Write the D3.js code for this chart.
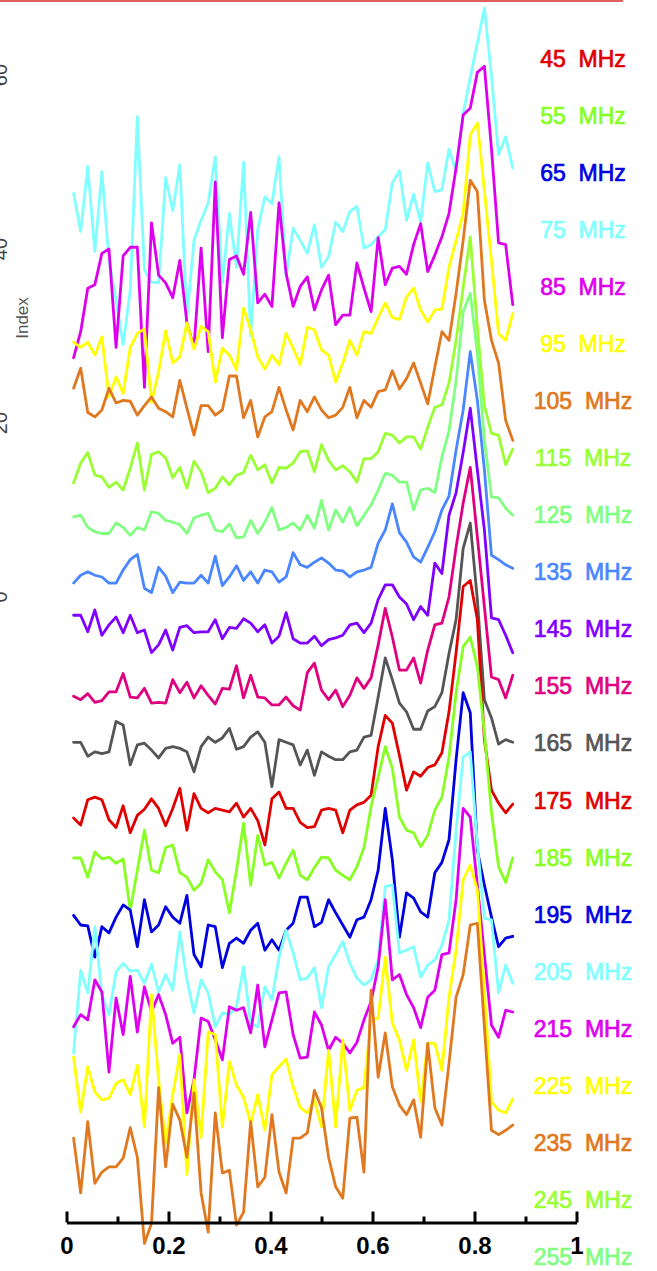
<!DOCTYPE html>
<html>
<head>
<meta charset="utf-8">
<script src="https://cdn.jsdelivr.net/npm/d3@7"></script>
<style>
  html, body { margin: 0; padding: 0; background: #fff; }
  svg { display: block; }
</style>
</head>
<body>
<svg id="chart" width="657" height="1271"></svg>
<script>
// Sample positions (phase) shared by every trace
const phase = [0.0139,0.0278,0.0417,0.0556,0.0694,0.0833,0.0972,0.1111,0.125,0.1389,
  0.1528,0.1667,0.1806,0.1944,0.2083,0.2222,0.2361,0.25,0.2639,0.2778,
  0.2917,0.3056,0.3194,0.3333,0.3472,0.3611,0.375,0.3889,0.4028,0.4167,
  0.4306,0.4444,0.4583,0.4722,0.4861,0.5,0.5139,0.5278,0.5417,0.5556,
  0.5694,0.5833,0.5972,0.6111,0.625,0.6389,0.6528,0.6667,0.6806,0.6944,
  0.7083,0.7222,0.7361,0.75,0.7639,0.7778,0.7917,0.8056,0.8194,0.8333,
  0.8472,0.8611,0.875];

// Frequency channels listed on the right and their colours
const freqs = [45,55,65,75,85,95,105,115,125,135,145,155,165,175,185,195,205,215,225,235,245,255];
const freqColors = ["#e00000","#88ff22","#0000e0","#80ffff","#dd00ee","#ffff00","#e07820","#99ff33",
  "#80ff80","#4a86ff","#7f00ff","#e0007f","#555555","#e00000","#88ff22","#0000e0","#80ffff",
  "#dd00ee","#ffff00","#e07820","#99ff33","#80ff80"];

// Stacked profiles (Index units, offset included)
const s75 = [46.4,42.0,49.5,39.7,48.9,38.7,34.1,29.0,35.3,55.2,37.6,36.2,36.1,48.2,44.4,49.7,32.1,41.0,43.3,45.3,50.6,36.1,44.1,37.9,50.0,30.0,42.2,46.0,45.2,50.6,36.8,42.4,41.0,39.5,42.8,37.9,39.1,43.1,42.0,44.3,44.9,40.1,40.5,41.4,42.2,47.6,49.0,43.3,46.3,43.1,49.9,46.6,46.8,51.5,48.9,55.6,59.7,63.7,67.7,59.9,50.8,52.9,49.3];
const s85 = [27.5,30.5,35.5,35.9,39.5,40.0,28.7,39.2,40.2,40.2,24.1,43.0,37.0,36.1,34.4,38.7,31.5,28.7,40.1,28.2,47.7,29.8,38.8,39.2,37.1,44.2,33.8,34.8,33.4,45.3,37.2,33.4,35.7,36.8,33.0,35.3,37.0,31.3,32.4,32.4,38.4,35.5,32.8,41.3,35.9,37.8,38.0,37.1,40.5,42.9,37.4,39.3,41.4,44.1,49.3,55.4,56.2,60.3,61.0,51.5,40.7,40.5,33.6];
const s95 = [29.3,28.7,29.3,27.8,29.9,23.0,25.3,23.4,28.7,30.3,30.8,22.4,25.9,30.6,26.9,27.6,31.5,28.5,31.1,30.5,24.7,28.6,27.8,26.1,33.2,30.7,27.6,26.2,27.8,26.7,30.3,28.6,26.7,31.0,30.7,28.4,27.8,24.7,26.9,29.5,27.8,30.5,30.3,32.1,33.8,32.1,31.9,34.5,35.5,33.0,31.6,33.0,33.1,37.9,41.0,44.1,53.1,54.5,46.7,38.6,30.3,29.5,32.6];
const s105 = [24.0,26.3,21.2,20.7,21.5,24.0,22.3,22.6,22.5,20.9,22.0,23.0,21.7,21.3,20.7,24.9,21.7,18.6,22.0,22.0,20.9,21.5,25.4,25.4,20.6,22.6,18.4,20.7,21.3,24.1,21.5,19.2,22.6,21.3,23.0,21.5,20.6,20.9,21.8,24.1,20.6,22.6,21.8,23.6,23.8,26.0,23.9,25.1,26.9,24.6,22.2,26.4,30.5,29.5,34.9,41.0,47.9,46.6,34.1,29.5,26.9,20.3,18.0];
const s115 = [13.1,15.4,16.6,14.0,13.8,12.6,13.2,12.3,14.8,17.7,12.3,16.4,16.7,16.0,13.7,14.9,12.5,15.6,14.4,12.0,12.5,13.8,12.9,14.0,14.3,16.3,14.6,15.2,13.1,14.9,14.8,15.4,16.7,16.8,14.4,17.5,15.7,14.6,15.1,14.4,13.2,15.9,15.9,16.7,18.8,18.6,17.7,18.4,18.4,17.0,19.5,21.8,22.1,24.6,29.5,35.6,41.4,31.0,22.0,18.8,18.6,15.2,17.0];
const s125 = [9.2,9.4,8.0,7.5,7.3,7.3,8.5,8.0,7.1,8.0,7.7,9.8,9.6,8.8,8.6,8.3,7.3,9.1,9.4,9.6,7.7,7.5,8.4,6.8,6.9,8.8,7.3,8.6,10.3,7.7,8.0,8.5,7.7,9.4,7.9,11.1,7.7,10.0,8.6,10.3,8.2,9.4,10.6,12.3,14.2,14.0,13.2,13.2,10.0,12.3,12.5,12.0,16.1,19.1,24.9,32.8,34.9,28.0,18.0,11.5,11.4,10.2,9.4];
const s135 = [1.6,2.5,2.9,2.5,2.3,1.6,1.6,3.1,4.3,4.9,1.0,0.5,3.4,2.4,0.5,1.7,1.6,1.6,2.5,1.6,4.7,1.3,2.3,3.6,1.9,2.9,1.6,3.1,2.9,1.7,2.3,5.1,3.7,3.4,4.0,4.5,3.9,3.1,3.0,2.3,2.9,3.1,3.4,6.2,7.7,10.7,7.4,6.3,4.6,4.0,5.7,7.5,10.0,11.6,16.9,21.5,28.2,22.6,14.6,4.8,4.3,3.7,3.3];
const s145 = [-2.1,-2.1,-4.0,-1.5,-4.4,-3.2,-2.3,-4.1,-2.1,-4.1,-3.8,-6.4,-5.5,-3.8,-6.1,-3.5,-3.3,-4.1,-4.0,-4.0,-2.6,-4.8,-3.5,-3.6,-2.5,-3.0,-4.0,-3.2,-5.3,-4.5,-1.8,-4.8,-5.3,-5.3,-4.5,-5.6,-4.9,-4.7,-4.4,-3.2,-3.0,-4.1,-3.0,-0.3,1.4,1.4,0.0,-0.8,-2.6,-1.1,-2.1,3.9,2.7,9.4,12.0,16.6,21.7,14.6,7.7,-2.4,-2.6,-4.4,-6.4];
const s155 = [-11.4,-11.8,-11.1,-12.1,-11.9,-10.9,-10.9,-8.8,-11.5,-11.6,-10.5,-12.2,-12.1,-12.2,-9.5,-11.0,-9.8,-11.6,-10.2,-11.3,-12.3,-10.5,-10.6,-7.9,-11.6,-9.0,-11.5,-11.6,-12.4,-12.4,-11.5,-12.5,-13.0,-8.7,-7.6,-10.7,-11.8,-10.7,-12.6,-11.3,-9.3,-10.5,-9.3,-5.5,-1.3,-4.6,-8.4,-8.4,-7.0,-9.9,-6.1,-3.2,-3.0,0.0,5.7,10.8,14.9,6.9,-1.1,-9.2,-9.5,-11.6,-9.0];
const s165 = [-16.7,-16.7,-18.3,-17.8,-18.0,-17.8,-14.3,-14.7,-19.3,-17.0,-16.8,-17.6,-18.5,-17.4,-17.2,-17.4,-17.8,-20.1,-17.2,-16.1,-16.7,-16.2,-15.1,-17.5,-17.2,-16.1,-15.5,-16.7,-21.8,-16.4,-16.7,-17.0,-19.3,-17.6,-20.5,-17.8,-18.3,-18.7,-18.7,-17.8,-17.6,-16.1,-15.9,-11.5,-7.0,-9.5,-12.2,-13.2,-15.2,-15.2,-13.1,-12.6,-11.0,-6.5,-2.6,5.6,8.5,-0.3,-11.8,-13.9,-16.9,-16.4,-16.7];
const s175 = [-25.4,-26.2,-23.3,-23.0,-23.3,-25.6,-26.5,-24.0,-27.1,-25.1,-24.4,-23.2,-24.3,-26.3,-24.3,-22.0,-26.8,-22.6,-24.3,-24.8,-24.3,-24.5,-24.7,-23.7,-25.3,-24.3,-25.7,-28.5,-23.2,-22.4,-24.3,-24.3,-25.9,-26.5,-26.4,-24.5,-24.3,-24.5,-27.1,-24.5,-23.9,-23.6,-22.8,-17.2,-13.6,-14.5,-18.2,-22.2,-20.1,-20.6,-19.6,-19.3,-17.9,-13.2,-6.4,1.2,1.9,-2.6,-16.4,-22.2,-23.7,-24.8,-23.8];
const s185 = [-30.0,-30.0,-32.2,-29.3,-30.1,-29.9,-30.6,-30.1,-36.0,-31.4,-26.8,-31.4,-31.7,-28.8,-28.5,-31.7,-32.2,-33.7,-32.9,-30.2,-31.6,-32.5,-36.3,-31.4,-26.0,-33.1,-27.4,-30.8,-30.5,-32.3,-30.6,-29.1,-32.0,-32.5,-31.1,-29.9,-30.0,-31.4,-32.0,-32.5,-31.0,-28.8,-24.1,-20.7,-17.2,-19.7,-25.3,-26.8,-27.1,-28.7,-27.4,-24.5,-23.0,-18.4,-11.0,-5.7,-4.6,-8.0,-15.6,-24.8,-31.0,-32.8,-30.0];
const s195 = [-36.6,-37.7,-37.8,-41.4,-37.9,-38.6,-36.8,-35.4,-36.0,-40.2,-34.8,-38.5,-37.7,-35.6,-36.8,-37.5,-34.3,-41.1,-42.5,-37.7,-37.9,-42.6,-39.8,-39.2,-39.8,-38.3,-37.5,-40.6,-39.4,-40.6,-38.3,-37.5,-34.5,-34.5,-37.9,-37.4,-34.8,-36.3,-37.7,-39.1,-37.1,-36.8,-34.8,-31.4,-24.3,-30.2,-39.1,-34.0,-34.6,-36.2,-36.8,-31.7,-30.5,-27.9,-18.7,-11.0,-13.3,-29.1,-33.1,-36.8,-40.2,-39.2,-39.0];
const s205 = [-52.4,-42.9,-45.5,-37.9,-45.7,-48.0,-43.1,-42.1,-43.0,-42.9,-44.4,-42.2,-45.4,-43.4,-45.2,-38.5,-44.0,-47.8,-44.0,-45.5,-49.4,-47.8,-48.0,-47.1,-42.5,-49.0,-49.4,-44.8,-46.3,-41.4,-38.3,-40.9,-44.0,-43.8,-42.6,-47.2,-42.5,-41.1,-39.6,-42.1,-43.8,-44.6,-44.0,-41.7,-33.3,-33.1,-40.9,-40.6,-40.2,-43.7,-42.3,-41.7,-40.0,-37.1,-26.8,-18.4,-17.8,-28.5,-36.9,-37.1,-45.5,-42.3,-44.4];
const s215 = [-49.4,-48.0,-48.6,-44.0,-45.4,-54.6,-46.1,-50.3,-43.6,-50.0,-44.8,-47.7,-45.7,-48.0,-51.3,-50.6,-59.3,-55.5,-48.4,-48.8,-50.9,-53.2,-47.1,-47.5,-47.2,-50.1,-44.6,-51.7,-48.6,-45.5,-45.4,-50.3,-53.0,-52.9,-47.7,-49.2,-52.1,-50.6,-51.3,-52.4,-51.2,-48.6,-46.5,-42.5,-34.8,-44.0,-43.4,-45.7,-47.2,-49.5,-46.0,-45.2,-41.1,-40.9,-34.8,-24.3,-25.3,-33.1,-41.1,-49.2,-50.6,-47.5,-47.7];
const s225 = [-52.9,-59.2,-54.0,-56.9,-57.8,-57.6,-55.9,-55.5,-57.2,-53.8,-60.9,-45.7,-55.5,-62.8,-57.2,-52.6,-66.4,-55.5,-62.1,-50.0,-50.3,-60.9,-53.4,-56.1,-57.5,-60.5,-57.2,-61.3,-54.9,-54.0,-53.1,-56.3,-58.7,-59.3,-57.8,-60.9,-52.1,-60.9,-50.9,-59.0,-56.7,-56.4,-48.6,-48.4,-41.4,-49.0,-50.9,-54.4,-50.9,-58.0,-51.3,-51.3,-54.4,-46.0,-40.6,-32.5,-30.8,-33.7,-45.2,-58.0,-59.0,-59.3,-57.7];
const s235 = [-62.2,-68.5,-60.3,-67.4,-66.1,-65.5,-65.5,-64.5,-61.0,-64.4,-74.3,-72.0,-56.4,-65.5,-58.3,-60.1,-64.4,-57.0,-68.5,-73.0,-59.3,-66.2,-65.9,-72.2,-70.7,-60.3,-67.8,-66.7,-59.5,-66.1,-68.5,-62.2,-62.2,-61.6,-56.7,-58.7,-64.4,-67.8,-69.1,-59.9,-59.8,-66.1,-45.2,-55.2,-50.1,-56.3,-58.4,-59.5,-57.8,-62.1,-51.3,-58.7,-60.7,-53.6,-46.0,-43.4,-37.7,-37.5,-49.4,-61.3,-61.8,-61.3,-60.7];

// Axis ticks
const xMajor = [0, 0.2, 0.4, 0.6, 0.8, 1];
const xMinor = [0.1, 0.3, 0.5, 0.7, 0.9];
const xTickLabels = ["0", "0.2", "0.4", "0.6", "0.8", "1"];
const yTicks = [0, 20, 40, 60];
const yTickLabels = ["0", "20", "40", "60"];

// Traces drawn in order, higher frequencies on top
const traces = [
  {freq: 75, values: s75}, {freq: 85, values: s85}, {freq: 95, values: s95},
  {freq: 105, values: s105}, {freq: 115, values: s115}, {freq: 125, values: s125},
  {freq: 135, values: s135}, {freq: 145, values: s145}, {freq: 155, values: s155},
  {freq: 165, values: s165}, {freq: 175, values: s175}, {freq: 185, values: s185},
  {freq: 195, values: s195}, {freq: 205, values: s205}, {freq: 215, values: s215},
  {freq: 225, values: s225}, {freq: 235, values: s235}
];

const svg = d3.select("#chart");
const colorOf = d3.scaleOrdinal().domain(freqs).range(freqColors);

const x = d3.scaleLinear().domain([0, 1]).range([66.5, 576.5]);
const y = d3.scaleLinear().domain([0, 60]).range([597, 75]);
const labelY = d3.scalePoint().domain(freqs).range([66.7, 1265]);

// thin frame line along the top edge
svg.append("line")
  .attr("x1", 0).attr("x2", 623).attr("y1", 1).attr("y2", 1)
  .attr("stroke", "#e06060").attr("stroke-width", 2);

// profiles
const line = d3.line()
  .x((d, i) => x(phase[i]))
  .y(d => y(d));

svg.append("g")
  .selectAll("path")
  .data(traces)
  .join("path")
  .attr("d", d => line(d.values))
  .attr("fill", "none")
  .attr("stroke", d => colorOf(d.freq))
  .attr("stroke-width", 2.8)
  .attr("stroke-linejoin", "round")
  .attr("stroke-linecap", "round");

// bottom axis: major ticks with labels, minor ticks without
const axisY = 1222.5;
const gx = svg.append("g").attr("transform", `translate(0,${axisY})`)
  .call(d3.axisBottom(x).tickValues(xMajor).tickSize(-11).tickSizeOuter(0)
    .tickPadding(14).tickFormat((d, i) => xTickLabels[i]));
gx.select(".domain").attr("stroke", "#000").attr("stroke-width", 3);
gx.selectAll(".tick line").attr("stroke", "#000").attr("stroke-width", 3);
gx.selectAll(".tick text")
  .attr("fill", "#000")
  .style("font-family", "'Liberation Sans', Arial, sans-serif")
  .style("font-size", "24px")
  .style("font-weight", "bold");

const gxm = svg.append("g").attr("transform", `translate(0,${axisY})`)
  .call(d3.axisBottom(x).tickValues(xMinor).tickSize(-6).tickSizeOuter(0).tickFormat(""));
gxm.select(".domain").remove();
gxm.selectAll(".tick line").attr("stroke", "#000").attr("stroke-width", 3);

// left axis labels (rotated)
svg.append("g")
  .selectAll("text")
  .data(yTicks)
  .join("text")
  .attr("transform", d => `translate(7,${y(d)}) rotate(-90)`)
  .attr("text-anchor", "middle")
  .attr("fill", "#444")
  .style("font-family", "'Liberation Sans', Arial, sans-serif")
  .style("font-size", "20px")
  .text((d, i) => yTickLabels[i]);

svg.append("text")
  .attr("transform", "translate(28,318) rotate(-90)")
  .attr("text-anchor", "middle")
  .attr("fill", "#555")
  .style("font-family", "'Liberation Sans', Arial, sans-serif")
  .style("font-size", "17px")
  .text("Index");

// frequency labels (medium weight: regular face with a thin same-colour outline)
svg.append("g")
  .selectAll("text")
  .data(freqs)
  .join("text")
  .attr("x", 583)
  .attr("y", d => labelY(d))
  .attr("text-anchor", "middle")
  .attr("fill", d => colorOf(d))
  .attr("stroke", d => colorOf(d))
  .attr("stroke-width", 0.7)
  .style("font-family", "'Liberation Sans', Arial, sans-serif")
  .style("font-size", "23px")
  .style("white-space", "pre")
  .text(d => `${d}  MHz`);
</script>
</body>
</html>
